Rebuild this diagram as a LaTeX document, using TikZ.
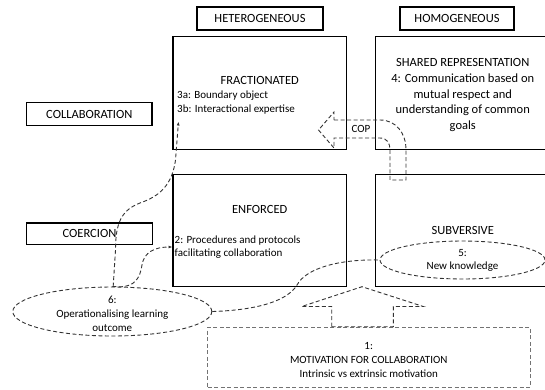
\documentclass[tikz,border=0pt]{standalone}
\usepackage{fontspec}
\setmainfont{Carlito}
\usetikzlibrary{arrows.meta,shapes.geometric}
\begin{document}
\begin{tikzpicture}[x=1pt,y=-1pt,
  solidbox/.style={draw=black,line width=1.2pt,inner sep=0pt,rectangle},
  headfont/.style={font=\fontsize{12.5}{15}\selectfont},
  head/.style={headfont,inner sep=0pt,anchor=base},
  body/.style={font=\fontsize{11}{13}\selectfont,inner sep=0pt,anchor=base},
  dashln/.style={draw=black!80,line width=0.9pt,dash pattern=on 4pt off 2.5pt},
  oval/.style={ellipse,dashln,inner sep=0pt},
  tipped/.style={-{Latex[length=4pt,width=3pt]}}
]
\useasboundingbox (0,0) rectangle (545,389);
\clip (0,0) rectangle (545,389);

% column / row labels
\node[solidbox,headfont,minimum width=126pt,minimum height=23pt] (het) at (260,18.5) {HETEROGENEOUS};
\node[solidbox,headfont,minimum width=114pt,minimum height=23pt] (hom) at (457,18.5) {HOMOGENEOUS};
\node[solidbox,headfont,minimum width=125.3pt,minimum height=22.8pt] (collab) at (89.35,114.1) {COLLABORATION};
\node[solidbox,headfont,minimum width=125.6pt,minimum height=21.3pt] (coer) at (89.5,233.65) {COERCION};

% quadrants
\node[solidbox,minimum width=173.5pt,minimum height=112.8pt] (frac) at (259.75,92.9) {};
\node[solidbox,minimum width=174.5pt,minimum height=112.8pt] (shared) at (462.75,92.9) {};
\node[solidbox,minimum width=173.5pt,minimum height=112.2pt] (enf) at (259.75,230.6) {};
\node[solidbox,minimum width=174.5pt,minimum height=112.2pt] (subv) at (462.75,230.6) {};

% ellipses and motivation box
\node[oval,minimum width=199pt,minimum height=49pt] (e6) at (112.3,311.5) {};
\node[oval,minimum width=165pt,minimum height=38pt] (e5) at (462.5,260) {};
\node[draw=black!55,line width=0.8pt,dash pattern=on 4pt off 2.5pt,minimum width=322.5pt,minimum height=60pt,inner sep=0pt] (mot) at (368.75,357) {};

% texts
\node[head] (fracT) at (259.75,84) {FRACTIONATED};
\node[body,anchor=base west] (f3a) at (177,98.3) {3a: Boundary object};
\node[body,anchor=base west] (f3b) at (177,112.3) {3b: Interactional expertise};

\node[head] (s1) at (462.75,66.5) {SHARED REPRESENTATION};
\node[head] (s2) at (462.75,82.25) {4: Communication based on};
\node[head] (s3) at (462.75,98) {mutual respect and};
\node[head] (s4) at (462.75,113.75) {understanding of common};
\node[head] (s5) at (462.75,129.5) {goals};

\node[head] (enfT) at (259.75,213.3) {ENFORCED};
\node[body,anchor=base west] (p1) at (174.5,243.5) {2: Procedures and protocols};
\node[body,anchor=base west] (p2) at (174.5,256.5) {facilitating collaboration};

\node[head] (subT) at (462.75,234) {SUBVERSIVE};
\node[body] (k1) at (462.5,256) {5:};
\node[body] (k2) at (462.5,269) {New knowledge};

\node[body] (o1) at (112.3,303) {6:};
\node[body] (o2) at (112.3,317) {Operationalising learning};
\node[body] (o3) at (112.3,331) {outcome};

\node[body] (m1) at (368.75,349) {1:};
\node[body] (m2) at (368.75,363) {MOTIVATION FOR COLLABORATION};
\node[body] (m3) at (368.75,377) {Intrinsic vs extrinsic motivation};

\node[body] (cop) at (361,132.3) {COP};

% COP block arrow
\draw[dashln] (334,120) -- (380,120) .. controls (396,120) and (406,133) .. (406,150) -- (406,180) -- (390,180) -- (390,150) .. controls (390,143) and (387,138) .. (380,138) -- (334,138) -- (334,148) -- (318.5,130) -- (334,112) -- cycle;

% upward block arrow from motivation
\draw[dashln] (331.7,326.7) -- (331.7,306.5) -- (301.7,306.5) -- (362,286.7) -- (423.3,306.5) -- (393.3,306.5) -- (393.3,326.7) -- cycle;

% connectors
\coordinate (fa) at (178.5,121.5);
\coordinate (ea) at (172.5,247);
\draw[dashln,tipped] (e6.88) -- (115.5,250) .. controls (115.5,222) and (122,210) .. (140,203) .. controls (160,196) and (172,185) .. (175.5,160) -- (fa);
\draw[dashln,tipped] (e6.north) -- (120,286.8) .. controls (135,286.5) and (140,278) .. (142,265) .. controls (144,252) and (155,247) .. (ea);
\draw[dashln] (e6.east) .. controls (260,310) and (288,300) .. (297,285) .. controls (306,268) and (340,259) .. (e5.west);
\end{tikzpicture}
\end{document}
